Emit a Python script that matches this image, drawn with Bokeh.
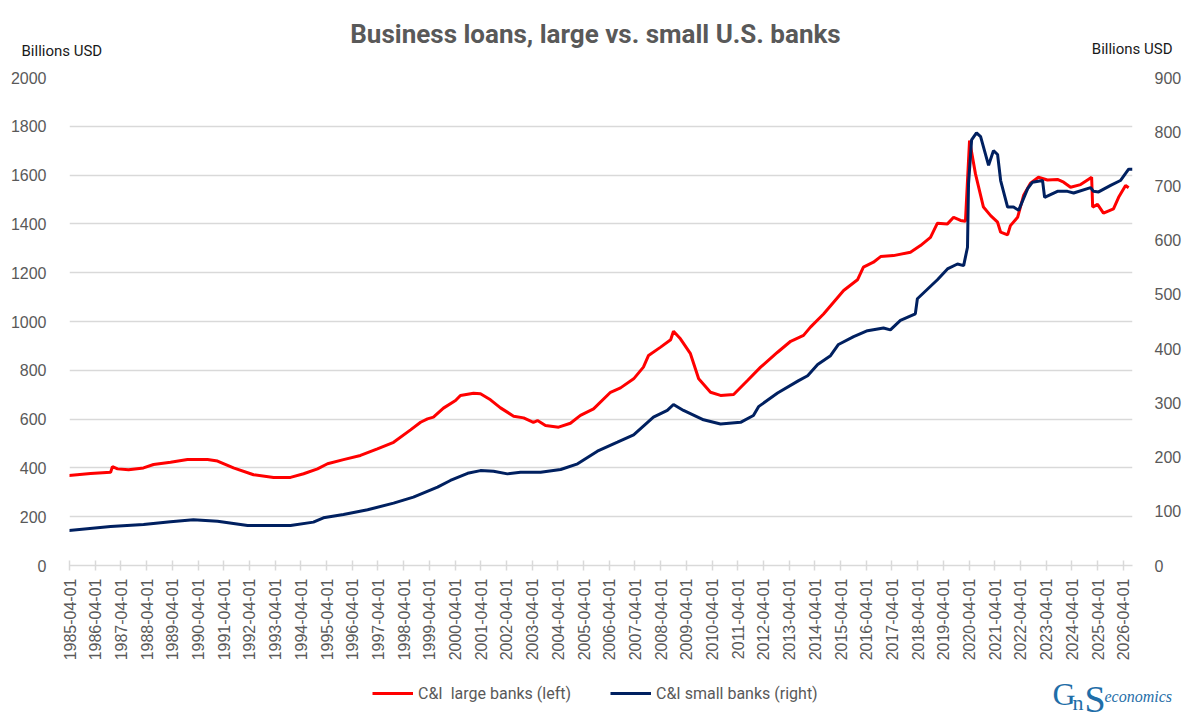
import numpy as np
from bokeh.plotting import figure
from bokeh.layouts import column
from bokeh.models import (Range1d, LinearAxis, FixedTicker, Legend, LegendItem)
from bokeh.core.properties import value
from bokeh.embed import file_html
from bokeh.resources import INLINE

# ---------------- data (decimal years, billions USD) ----------------
large_t = [1985.21, 1986.07, 1986.85, 1986.92, 1987.12, 1987.55, 1988.13, 1988.52, 1989.18, 1989.84,
           1990.62, 1991.01, 1991.63, 1992.41, 1993.19, 1993.85, 1994.36, 1994.90, 1995.29, 1995.91,
           1996.57, 1997.23, 1997.86, 1998.52, 1998.91, 1999.18, 1999.41, 1999.80, 2000.27, 2000.46,
           2000.97, 2001.24, 2001.63, 2002.02, 2002.53, 2002.92, 2003.30, 2003.46, 2003.77, 2004.28,
           2004.74, 2005.13, 2005.64, 2006.30, 2006.69, 2007.20, 2007.58, 2007.78, 2008.25, 2008.64,
           2008.75, 2009.02, 2009.41, 2009.73, 2010.19, 2010.58, 2011.09, 2011.63, 2012.14, 2012.80,
           2013.31, 2013.81, 2014.08, 2014.59, 2014.98, 2015.37, 2015.91, 2016.14, 2016.53, 2016.81,
           2017.31, 2017.97, 2018.36, 2018.75, 2019.02, 2019.41, 2019.65, 2019.92, 2020.11, 2020.19,
           2020.27, 2020.50, 2020.81, 2021.09, 2021.36, 2021.48, 2021.75, 2021.86, 2022.14, 2022.37,
           2022.64, 2022.95, 2023.30, 2023.69, 2023.93, 2024.20, 2024.59, 2024.86, 2025.02, 2025.06,
           2025.25, 2025.48, 2025.87, 2026.07, 2026.34, 2026.46]
large_v = [369, 377, 382, 405, 396, 392, 400, 414, 423, 434,
           434, 428, 400, 372, 361, 361, 376, 396, 417, 434,
           451, 478, 505, 556, 587, 601, 608, 645, 676, 697,
           706, 704, 679, 646, 612, 605, 587, 594, 574, 567,
           583, 615, 642, 710, 728, 765, 813, 861, 895, 925,
           960, 929, 868, 765, 710, 697, 701, 758, 813, 874,
           919, 943, 977, 1031, 1079, 1127, 1171, 1223, 1243, 1266,
           1270, 1284, 1311, 1345, 1403, 1400, 1427, 1414, 1411, 1578,
           1742, 1605, 1469, 1434, 1407, 1366, 1355, 1393, 1427, 1516,
           1567, 1591, 1580, 1582, 1571, 1550, 1561, 1580, 1591, 1469,
           1480, 1444, 1462, 1509, 1557, 1548]

small_t = [1985.21, 1986.85, 1988.13, 1989.18, 1990.07, 1991.01, 1992.18, 1993.85, 1994.74, 1995.13,
           1995.91, 1996.85, 1997.86, 1998.63, 1999.57, 2000.07, 2000.74, 2001.24, 2001.75, 2002.29,
           2002.80, 2003.58, 2004.36, 2005.02, 2005.79, 2006.57, 2007.20, 2007.97, 2008.51, 2008.75,
           2009.14, 2009.92, 2010.58, 2011.36, 2011.86, 2012.06, 2012.80, 2013.62, 2013.97, 2014.36,
           2014.86, 2015.17, 2015.76, 2016.30, 2016.92, 2017.19, 2017.58, 2018.16, 2018.24, 2018.64,
           2019.02, 2019.41, 2019.80, 2020.04, 2020.19, 2020.23, 2020.35, 2020.54, 2020.70, 2021.01,
           2021.20, 2021.36, 2021.48, 2021.75, 2021.98, 2022.18, 2022.53, 2022.72, 2023.11, 2023.19,
           2023.69, 2024.08, 2024.32, 2024.98, 2025.09, 2025.29, 2025.76, 2026.14, 2026.46, 2026.61]
small_v = [64.5, 71.9, 75.6, 80.6, 84.2, 81.8, 73.8, 73.8, 80, 88,
           94, 102.7, 115, 126, 144.4, 156.8, 170, 175, 174, 169,
           172, 172, 177, 187.5, 210.9, 227.5, 241, 273.5, 286, 297,
           286, 268.7, 261, 264, 276.6, 293, 318, 341, 350, 370.7,
           387, 407.6, 422, 433, 438, 434.6, 452, 464, 492, 510,
           527, 547, 556, 553, 587, 704, 785, 798, 791, 738,
           765, 758, 710, 661, 661, 655, 695, 707, 710, 679,
           690, 690, 687, 697, 690, 689, 701, 710, 731, 731]

tick_pos = [1985.25 + i for i in range(42)]
tick_labels = [f"{1985 + i}-04-01" for i in range(42)]
left_ticks = list(range(0, 2001, 200))
right_ticks = list(range(0, 901, 100))

title_text = "Business loans, large vs. small U.S. banks"
unit_text = "Billions USD"
large_name = "C&I  large banks (left)"
small_name = "C&I small banks (right)"

RED = "#ff0000"
BLUE = "#002060"
GRAY = "#595959"
GRID = "#d9d9d9"
LOGO = "#1f6ea8"

W = 1191
TOP_H, MAIN_H, BOT_H = 60, 612, 54


def blank(h):
    f = figure(width=W, height=h, output_backend="svg", toolbar_location=None,
               x_range=Range1d(0, W), y_range=Range1d(h, 0),
               min_border=0, min_border_left=0, min_border_right=0,
               min_border_top=0, min_border_bottom=0, frame_align=False)
    f.axis.visible = False
    f.grid.visible = False
    f.outline_line_color = None
    f.background_fill_color = "white"
    f.border_fill_color = "white"
    return f


# ---------------- header ----------------
top = blank(TOP_H)
top.text(x=[595], y=[33], text=[title_text], text_font=value("Roboto"), text_font_size="26px",
         text_font_style="bold", text_color=GRAY, text_align="center", text_baseline="middle")
top.text(x=[21], y=[50], text=[unit_text], text_font=value("Roboto"), text_font_size="15px",
         text_color="#1a1a1a", text_align="left", text_baseline="middle")
top.text(x=[1172], y=[48], text=[unit_text], text_font=value("Roboto"), text_font_size="15px",
         text_color="#1a1a1a", text_align="right", text_baseline="middle")

# ---------------- main chart ----------------
p = figure(width=W, height=MAIN_H, output_backend="svg", toolbar_location=None,
           x_range=Range1d(1985.25, 2026.61), y_range=Range1d(0, 2000), frame_align=False,
           min_border_left=69, min_border_right=59, min_border_top=17, min_border_bottom=107)
p.extra_y_ranges = {"right": Range1d(0, 900)}
p.outline_line_color = None
p.background_fill_color = "white"
p.border_fill_color = "white"

xa = p.xaxis[0]
xa.ticker = FixedTicker(ticks=tick_pos)
xa.major_label_overrides = {t: l for t, l in zip(tick_pos, tick_labels)}
xa.major_label_orientation = np.pi / 2
xa.major_label_text_font = "Liberation Sans"
xa.major_label_text_font_size = "16px"
xa.major_label_text_color = GRAY
xa.axis_line_color = GRID
xa.axis_line_width = 1.5
xa.major_tick_line_color = GRID
xa.major_tick_line_width = 1.5
xa.major_tick_in = 5
xa.major_tick_out = 5
xa.minor_tick_line_color = None
xa.major_label_standoff = 8

ya = p.yaxis[0]
ya.ticker = FixedTicker(ticks=left_ticks)
ya.axis_line_color = None
ya.major_tick_line_color = None
ya.minor_tick_line_color = None
ya.major_label_text_font = "Liberation Sans"
ya.major_label_text_font_size = "16px"
ya.major_label_text_color = GRAY
ya.major_label_standoff = 17

ra = LinearAxis(y_range_name="right", ticker=FixedTicker(ticks=right_ticks))
ra.axis_line_color = None
ra.major_tick_line_color = None
ra.minor_tick_line_color = None
ra.major_label_text_font = "Liberation Sans"
ra.major_label_text_font_size = "16px"
ra.major_label_text_color = GRAY
ra.major_label_standoff = 16
p.add_layout(ra, "right")

p.xgrid.grid_line_color = None
p.ygrid.grid_line_color = GRID
p.ygrid.grid_line_width = 1.5
p.ygrid.ticker = FixedTicker(ticks=left_ticks)

p.line(large_t, large_v, line_color=RED, line_width=3)
p.line(small_t, small_v, line_color=BLUE, line_width=3, y_range_name="right")

# ---------------- footer: legend + logo ----------------
bot = blank(BOT_H)
# off-canvas stand-ins that only supply the legend swatches
d_large = bot.line(x=[-50, -40], y=[-50, -50], line_color=RED, line_width=3)
d_small = bot.line(x=[-50, -40], y=[-50, -50], line_color=BLUE, line_width=3)
for r, name, x0 in ((d_large, large_name, 372), (d_small, small_name, 610)):
    lg = Legend(items=[LegendItem(label=name, renderers=[r])], location=(x0, BOT_H - 21 - 10),
                orientation="horizontal",
                label_text_font="Roboto", label_text_font_size="16px", label_text_color=GRAY,
                glyph_width=41, glyph_height=20, label_height=20, label_standoff=5,
                padding=0, margin=0, spacing=0, border_line_color=None,
                background_fill_alpha=0)
    bot.add_layout(lg, "center")

bot.text(x=[1052], y=[21], text=["G"], text_font=value("Liberation Serif"), text_font_size="32px",
         text_color=LOGO, text_baseline="middle")
bot.text(x=[1072], y=[30], text=["n"], text_font=value("Liberation Serif"), text_font_size="22px",
         text_color=LOGO, text_baseline="middle")
bot.text(x=[1084], y=[26], text=["S"], text_font=value("Liberation Serif"), text_font_size="38px",
         text_color=LOGO, text_baseline="middle")
bot.text(x=[1104], y=[24], text=["economics"], text_font=value("Liberation Serif"), text_font_size="16px",
         text_font_style="italic", text_color=LOGO, text_baseline="middle")

layout = column(top, p, bot, spacing=0)
open("out.html", "w").write(file_html(layout, INLINE))
